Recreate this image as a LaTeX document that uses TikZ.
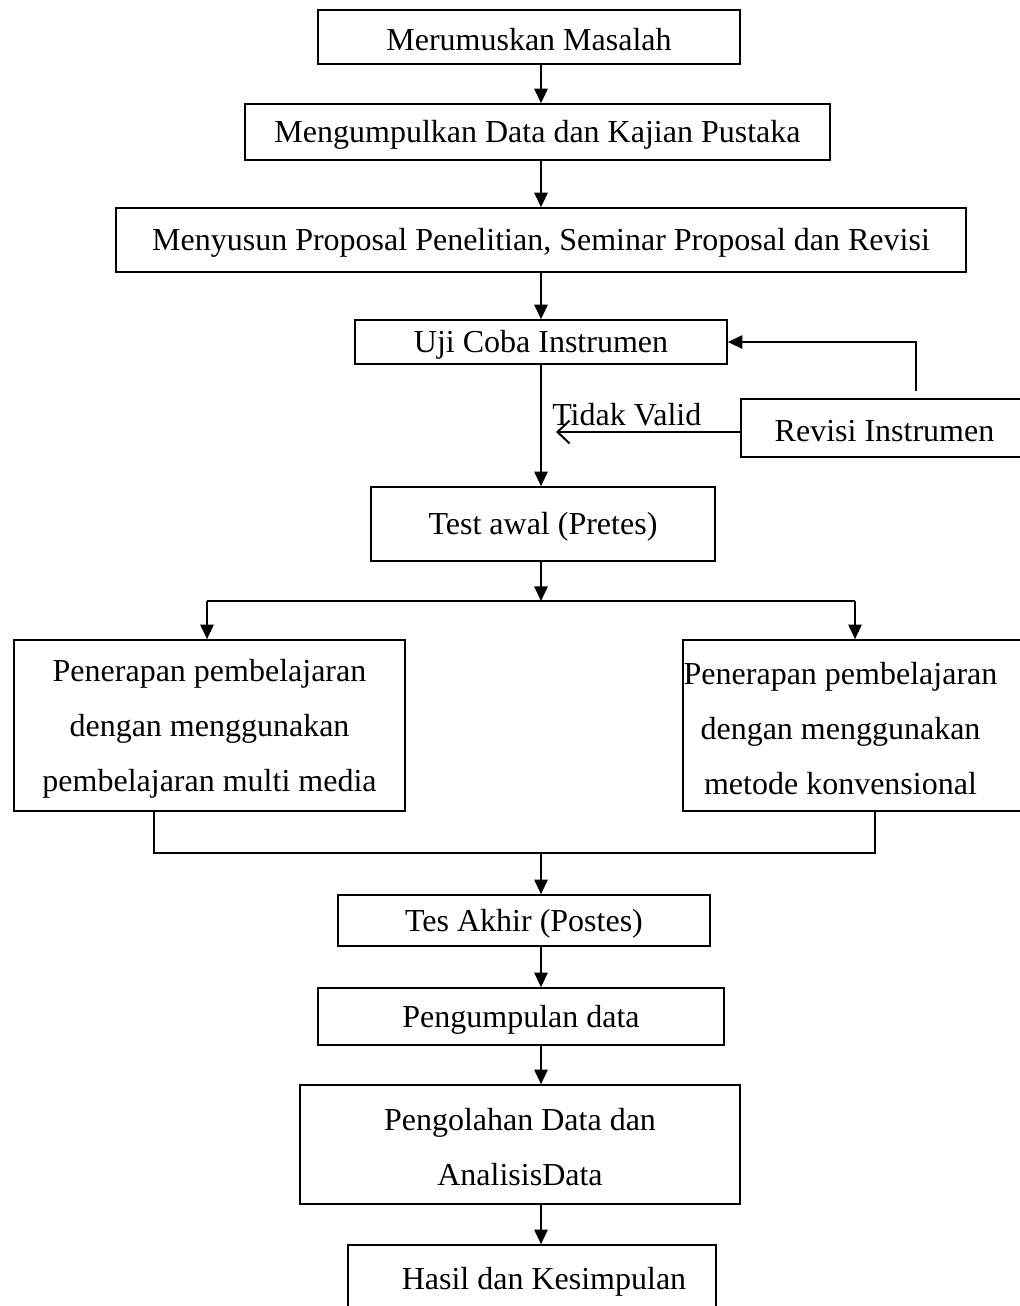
\documentclass[tikz,border=0pt]{standalone}
\usepackage{fontspec}
\setmainfont{Liberation Serif}
\usetikzlibrary{arrows.meta}
\tikzset{
  box/.style={draw, line width=1.2pt, inner sep=0pt},
  txt/.style={inner sep=0pt, align=center, font=\fontsize{24}{41.25}\selectfont},
  arr/.style={line width=1.5pt, -{Triangle[length=11pt,width=10pt]}},
  plain/.style={line width=1.5pt},
  openarr/.style={line width=1.5pt, -{Straight Barb[length=9pt,width=17pt]}},
  lbl/.style={inner sep=0pt, font=\fontsize{24}{28}\selectfont}
}
\newcommand\bx[7]{\node[box, minimum width={0.75pt*(#4-#2)}, minimum height={0.75pt*(#5-#3)}] (#1) at ({(#2+#4)/2},{(#3+#5)/2}) {};
\node[txt] (#1t) at ({(#2+#4)/2+#7},{(#3+#5)/2+3}) {#6};}
\begin{document}
\begin{tikzpicture}[x=0.75pt,y=-0.75pt]
\useasboundingbox (0,0) rectangle (1020,1306);
\bx{m1}{318}{10}{740}{64}{Merumuskan Masalah}{0}
\bx{m2}{245}{104}{830}{160}{Mengumpulkan Data dan Kajian Pustaka}{0}
\bx{m3}{116}{208}{966}{272}{Menyusun Proposal Penelitian, Seminar Proposal dan Revisi}{0}
\bx{uji}{355}{320}{727}{364}{Uji Coba Instrumen}{0}
\bx{rev}{741}{399}{1040}{457}{Revisi Instrumen}{-6}
\bx{test}{371}{487}{715}{561}{Test awal (Pretes)}{0}
\bx{lb}{14}{640}{405}{811}{Penerapan pembelajaran\\dengan menggunakan\\pembelajaran multi media}{0}
\bx{rb}{683}{640}{1040}{811}{Penerapan pembelajaran\\dengan menggunakan\\metode konvensional}{-21}
\bx{akhir}{338}{895}{710}{946}{Tes Akhir (Postes)}{0}
\bx{kumpul}{318}{988}{724}{1045}{Pengumpulan data}{0}
\bx{olah}{300}{1085}{740}{1204}{Pengolahan Data dan\\AnalisisData}{0}
\bx{hasil}{348}{1245}{716}{1313}{Hasil dan Kesimpulan}{12}
\coordinate (X) at (541,0);
\draw[arr] (m1.south -| X) -- (m2.north -| X);
\draw[arr] (m2.south -| X) -- (m3.north -| X);
\draw[arr] (m3.south -| X) -- (uji.north -| X);
\draw[arr] (uji.south -| X) -- (test.north -| X);
% revision loop
\coordinate (r1) at (916,391);
\draw[arr] (r1) |- (uji.east);
\coordinate (tv) at (556,432);
\draw[openarr] (rev.west |- tv) -- (tv);
\node[lbl, anchor=base west] (tvl) at (552,425) {Tidak Valid};
% branch
\coordinate (bl) at (207,601);
\coordinate (br) at (855,601);
\draw[arr] (test.south -| X) -- (X |- bl);
\draw[plain] (bl) -- (br);
\draw[arr] (bl) -- (bl |- lb.north);
\draw[arr] (br) -- (br |- rb.north);
% merge
\coordinate (ml) at (154,853);
\coordinate (mr) at (875,853);
\draw[plain] (ml |- lb.south) -- (ml) -- (mr) -- (mr |- rb.south);
\draw[arr] (X |- ml) -- (akhir.north -| X);
\draw[arr] (akhir.south -| X) -- (kumpul.north -| X);
\draw[arr] (kumpul.south -| X) -- (olah.north -| X);
\draw[arr] (olah.south -| X) -- (hasil.north -| X);
\end{tikzpicture}
\end{document}
